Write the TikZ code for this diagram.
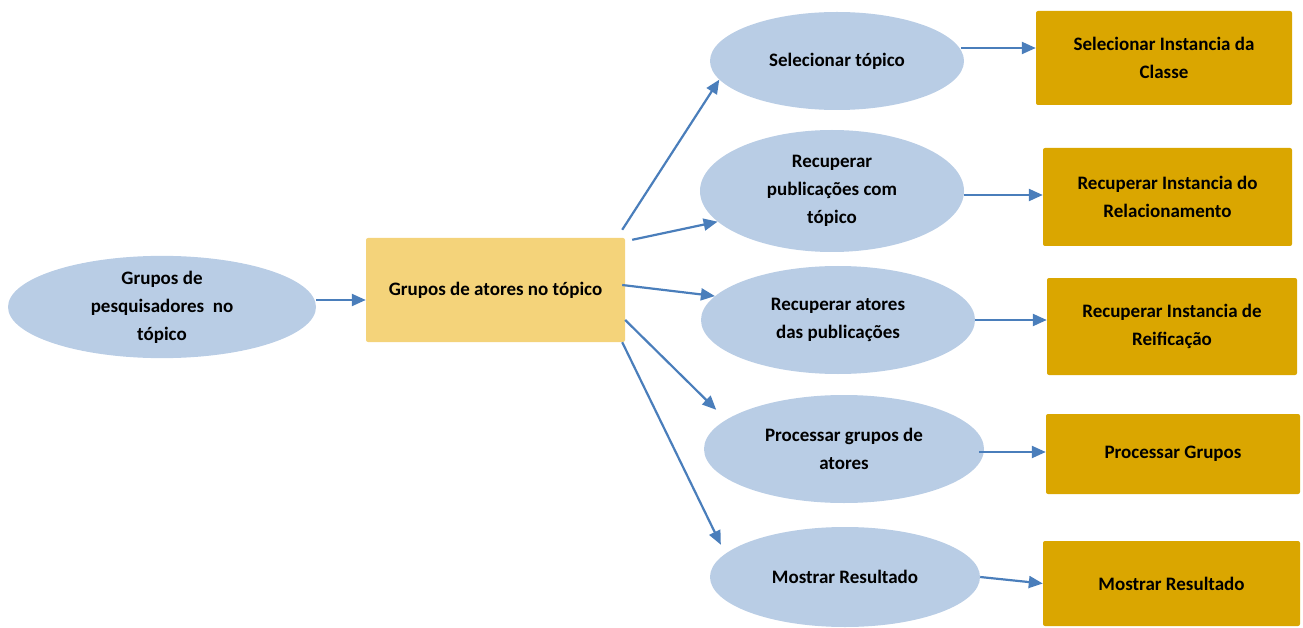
\documentclass[tikz,border=0pt]{standalone}
\usepackage{fontspec}
\setmainfont{Carlito}
\usetikzlibrary{arrows.meta,shapes.geometric,calc}

\definecolor{etapablue}{RGB}{185,205,229}
\definecolor{grupoyellow}{RGB}{244,211,122}
\definecolor{classegold}{RGB}{218,166,0}
\definecolor{setablue}{RGB}{74,126,187}

\begin{document}
\begin{tikzpicture}[x=1pt,y=-1pt,>=Latex,
    rotulo/.style={font=\fontsize{19}{28}\selectfont\bfseries, align=center},
    etapa/.style={rotulo, ellipse, fill=etapablue, inner sep=0pt},
    grupo/.style={rotulo, rectangle, fill=grupoyellow, rounded corners=2pt},
    classe/.style={rotulo, rectangle, fill=classegold, rounded corners=2pt},
    seta/.style={draw=setablue, line width=2.2pt,
        -{Triangle[length=14pt,width=12pt]}, fill=setablue}]

% Page size of the reference
\useasboundingbox (0,0) rectangle (1303,628);

% Starting point and the group box
\node[etapa, minimum width=308pt, minimum height=100pt] (pesq) at (162,307)
    {Grupos de\\pesquisadores\ \ no\\tópico};
\node[grupo, minimum width=259pt, minimum height=104pt] (atores) at (495.5,290)
    {Grupos de atores no tópico};

% Steps of the query
\node[etapa, minimum width=254pt, minimum height=98pt] (selec) at (837,61)
    {Selecionar tópico};
\node[etapa, minimum width=264pt, minimum height=122pt] (recpub) at (832,191)
    {Recuperar\\publicações com\\tópico};
\node[etapa, minimum width=274pt, minimum height=108pt] (recat) at (838,320)
    {Recuperar atores\\das publicações};
\node[etapa, minimum width=280pt, minimum height=108pt] (proc) at (844,449)
    {Processar grupos de\\atores};
\node[etapa, minimum width=270pt, minimum height=100pt] (most) at (845,577)
    {Mostrar Resultado};

% Operations on the ontology
\node[classe, minimum width=256pt, minimum height=94pt] (instclasse) at (1164,58)
    {Selecionar Instancia da\\Classe};
\node[classe, minimum width=249pt, minimum height=98pt] (instrel) at (1167.5,197)
    {Recuperar Instancia do\\Relacionamento};
\node[classe, minimum width=250pt, minimum height=97pt] (instreif) at (1172,326.5)
    {Recuperar Instancia de\\Reificação};
\node[classe, minimum width=254pt, minimum height=80pt] (procgr) at (1173,454)
    {Processar Grupos};
\node[classe, minimum width=257pt, minimum height=85pt] (mostres) at (1171.5,583.5)
    {Mostrar Resultado};

% Arrow into the group box
\draw[seta] ($(pesq.east)+(0pt,7pt)$) coordinate (p0) -- (p0 -| atores.west);

% Arrows fanning out of the group box
\draw[seta] ($(atores.north east)+(-3pt,8pt)$) -- (selec.189);
\draw[seta] ($(atores.north east)+(7pt,-2pt)$) -- (recpub.195);
\draw[seta] ($(atores.east)+(-3pt,5pt)$) -- (recat.169);
\draw[seta, shorten >=14pt] ($(atores.east)+(0pt,-30pt)$) -- (proc.166);
\draw[seta, shorten >=10pt] ($(atores.south east)+(-3pt,0pt)$) -- (most.169);

% Arrows from each step to its operation
\draw[seta] ($(selec.east)+(-3pt,13pt)$) coordinate (s1) -- (s1 -| instclasse.west);
\draw[seta] ($(recpub.east)+(0pt,-4pt)$) coordinate (s2) -- (s2 -| instrel.west);
\draw[seta] (recat.east) -- (recat.east -| instreif.west);
\draw[seta] ($(proc.east)+(-5pt,-3pt)$) coordinate (s4) -- (s4 -| procgr.west);
\draw[seta] (most.east) -- (mostres.west);

\end{tikzpicture}
\end{document}
